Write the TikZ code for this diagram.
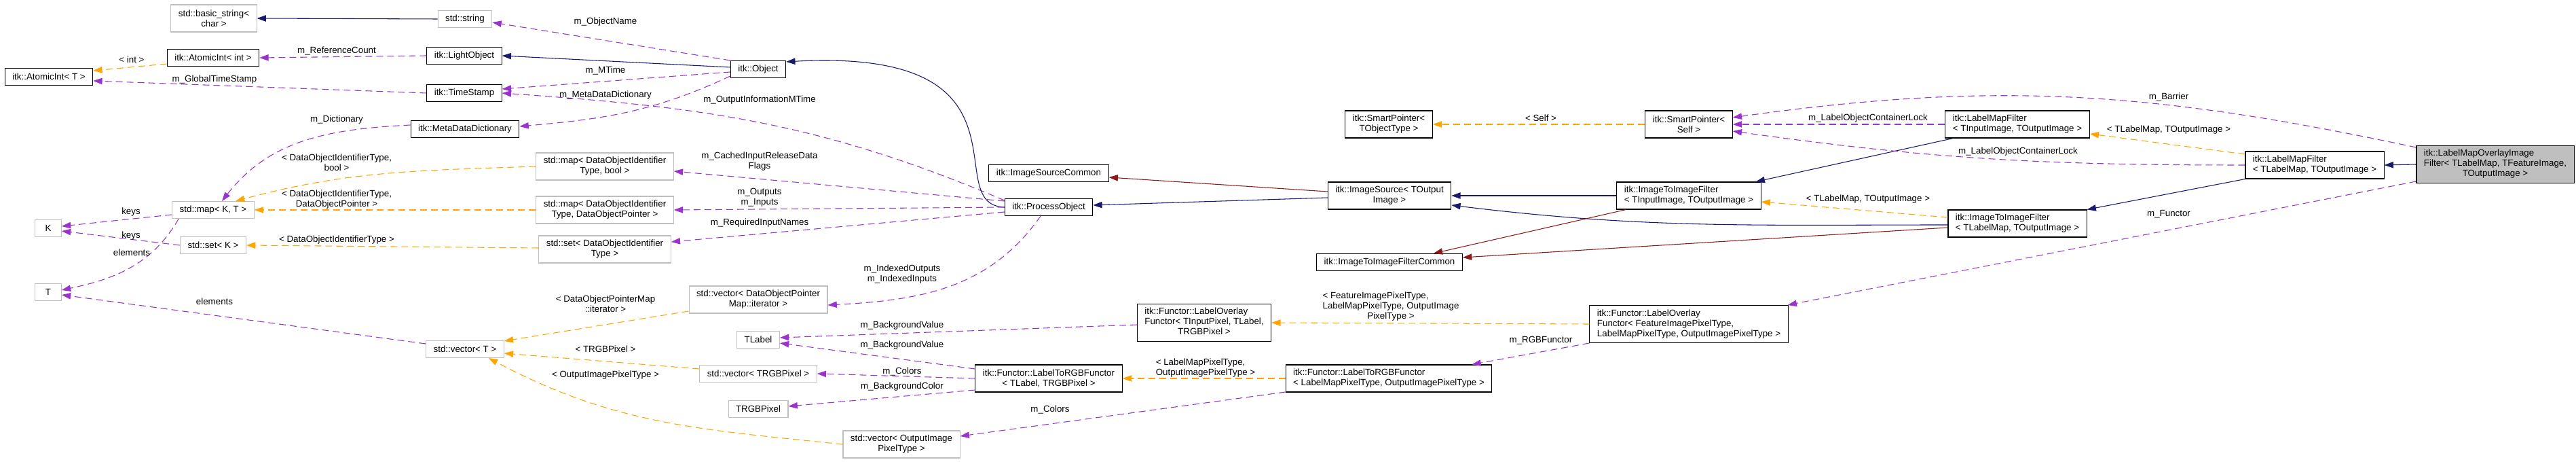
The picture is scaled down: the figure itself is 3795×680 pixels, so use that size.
\documentclass[tikz,border=0pt]{standalone}
\usepackage{fontspec}
\setmainfont{Liberation Sans}
\usetikzlibrary{arrows.meta, calc}
\definecolor{inhblue}{HTML}{191970}
\definecolor{protred}{HTML}{8B1A1A}
\definecolor{usepurple}{HTML}{9A32CD}
\definecolor{tmplorange}{HTML}{FFA500}
\definecolor{boxgray}{HTML}{BFBFBF}
\newcommand{\lastc}[1]{\multicolumn{1}{@{}c@{}}{#1}}

\begin{document}
\begin{tikzpicture}[x=0.75pt, y=-0.75pt, >={Triangle[length=10pt,width=7pt]},
    every node/.style={font=\fontsize{10}{11.25}\selectfont},
    cls/.style={draw=black, line width=0.8pt, inner xsep=8.25pt, inner ysep=2pt, minimum height=18.75pt},
    ext/.style={cls, draw=boxgray},
    cur/.style={cls, fill=boxgray},
    rows2/.style={minimum height=30pt},
    rows3/.style={minimum height=41.25pt},
    lbl/.style={inner sep=0pt, align=center},
    inh/.style={->, draw=inhblue, line width=0.8pt},
    prot/.style={->, draw=protred, line width=0.8pt},
    use/.style={->, draw=usepurple, line width=0.8pt, dash pattern=on 7.5pt off 4.5pt},
    tmpl/.style={->, draw=tmplorange, line width=0.8pt, dash pattern=on 7.5pt off 4.5pt}]
                \useasboundingbox (0,0) rectangle (3795,680);

                \node[ext, rows2, align=center] (bstr) at (315,27) {std::basic\_string<\\char >};
                \node[cls] (aint) at (314,85) {itk::AtomicInt< int >};
                \node[cls] (aintT) at (72,113) {itk::AtomicInt< T >};
                \node[ext] (mapkt) at (314,309) {std::map< K, T >};
                \node[ext, minimum width=29pt] (K) at (71,336) {K};
                \node[ext] (setk) at (314,361) {std::set< K >};
                \node[ext, minimum width=29pt] (T) at (71,430) {T};
                \node[ext] (str) at (685,28) {std::string};
                \node[cls] (lobj) at (684,82) {itk::LightObject};
                \node[cls] (tstamp) at (684,137) {itk::TimeStamp};
                \node[cls] (mdd) at (685,190) {itk::MetaDataDictionary};
                \node[ext] (vecT) at (685,514) {std::vector< T >};
                \node[cls] (obj) at (1117,102) {itk::Object};
                \node[ext, rows2, align=center] (mapb) at (891,245) {std::map< DataObjectIdentifier\\Type, bool >};
                \node[ext, rows2, align=center] (mapp) at (891,309) {std::map< DataObjectIdentifier\\Type, DataObjectPointer >};
                \node[ext, rows2, align=center] (setd) at (891,367) {std::set< DataObjectIdentifier\\Type >};
                \node[ext, rows2, align=center] (veci) at (1117,441) {std::vector< DataObjectPointer\\Map::iterator >};
                \node[ext] (tlabel) at (1117,500) {TLabel};
                \node[ext] (vecrgb) at (1117,550) {std::vector< TRGBPixel >};
                \node[ext] (trgb) at (1117,602) {TRGBPixel};
                \node[ext, rows2, align=center] (veco) at (1328,654) {std::vector< OutputImage\\PixelType >};
                \node[cls] (isc) at (1545,255) {itk::ImageSourceCommon};
                \node[cls] (po) at (1545,305) {itk::ProcessObject};
                \node[cls, rows3] (lof) at (1774,475) {\begin{tabular}{@{}l@{}}itk::Functor::LabelOverlay\\Functor< TInputPixel, TLabel,\\\lastc{TRGBPixel >}\end{tabular}};
                \node[cls, rows2, align=center] (ltr) at (1545,557) {itk::Functor::LabelToRGBFunctor\\< TLabel, TRGBPixel >};
                \node[cls, rows2, align=center] (spt) at (2046,183) {itk::SmartPointer<\\ TObjectType >};
                \node[cls, rows2, align=center] (sps) at (2488,183) {itk::SmartPointer<\\ Self >};
                \node[cls, rows2, align=center] (is) at (2047,288) {itk::ImageSource< TOutput\\ Image >};
                \node[cls, rows2, align=left] (iif) at (2488,288) {itk::ImageToImageFilter\\< TInputImage, TOutputImage >};
                \node[cls] (iifc) at (2047,386) {itk::ImageToImageFilterCommon};
                \node[cls, rows3, align=left] (lof2) at (2488,477) {itk::Functor::LabelOverlay\\Functor< FeatureImagePixelType,\\ LabelMapPixelType, OutputImagePixelType >};
                \node[cls, rows2, align=left] (ltr2) at (2046,557) {itk::Functor::LabelToRGBFunctor\\< LabelMapPixelType, OutputImagePixelType >};
                \node[cls, rows2, align=left] (lmf) at (2972,183) {itk::LabelMapFilter\\< TInputImage, TOutputImage >};
                \node[cls, rows2, align=left] (iif2) at (2972,329) {itk::ImageToImageFilter\\< TLabelMap, TOutputImage >};
                \node[cls, rows2, align=left] (lmf2) at (3410,243) {itk::LabelMapFilter\\< TLabelMap, TOutputImage >};
                \node[cur, rows3] (main) at (3676,242) {\begin{tabular}{@{}l@{}}itk::LabelMapOverlayImage\\Filter< TLabelMap, TFeatureImage,\\\lastc{TOutputImage >}\end{tabular}};

                \draw[inh] (str.west) -- (bstr.east);
                \draw[use] (obj.north west) -- ($(str.east)+(0,5)$);
                \draw[inh] ($(obj.west)+(0,-3)$) -- (lobj.east);
                \draw[use] ($(obj.west)+(0,4)$) -- ($(tstamp.east)+(0,-6)$);
                \draw[use] ($(po.north west)+(0,3)$) to[out=157, in=-4] (tstamp.east);
                \draw[inh] (po.west) .. controls (1380,301) and (1540,70) .. (obj.15);
                \draw[use] ($(obj.west)+(0,10)$) to[out=205, in=5] ($(mdd.east)+(0,-4)$);
                \draw[use] ($(mdd.west)+(0,-6)$) to[out=183, in=52] ($(mapkt.north)+(13,0)$);
                \draw[tmpl] (mapb.west) to[out=182, in=15] ($(mapkt.north)+(33,0)$);
                \draw[tmpl] (mapp.west) -- (mapkt.east);
                \draw[tmpl] ($(setd.west)+(0,-2)$) -- (setk.east);
                \draw[use] ($(mapkt.west)+(0,7)$) -- ($(K.east)+(0,-3)$);
                \draw[use] (setk.west) -- ($(K.east)+(0,4)$);
                \draw[use] ($(mapkt.south west)+(10,0)$) to[out=240, in=12] ($(T.east)+(0,-3)$);
                \draw[use] ($(vecT.west)+(0,-8)$) -- ($(T.east)+(0,4)$);
                \draw[tmpl] ($(aint.west)+(0,9)$) -- ($(aintT.east)+(0,-9)$);
                \draw[use] (lobj.west) -- (aint.east);
                \draw[use] (tstamp.west) -- ($(aintT.east)+(0,6)$);
                \draw[use] ($(po.west)+(0,-9)$) -- ($(mapb.east)+(0,7)$);
                \draw[use] (po.west) -- (mapp.east);
                \draw[use] ($(po.west)+(0,7)$) -- ($(setd.east)+(0,-11)$);
                \draw[use] ($(po.south)+(-12,0)$) to[out=235, in=3] ($(veci.east)+(0,8)$);
                \draw[tmpl] ($(veci.west)+(0,17)$) -- ($(vecT.north east)+(0,1)$);
                \draw[tmpl] ($(vecrgb.west)+(0,-7)$) -- ($(vecT.east)+(0,6)$);
                \draw[tmpl] (veco.west) to[out=174, in=-28] ($(vecT.south east)+(-23,0)$);
                \draw[use] ($(lof.west)+(0,3)$) -- ($(tlabel.east)+(0,-3)$);
                \draw[use] ($(ltr.west)+(0,-14)$) -- ($(tlabel.east)+(0,5)$);
                \draw[use] (ltr.west) -- (vecrgb.east);
                \draw[use] ($(ltr.west)+(0,17)$) -- ($(trgb.east)+(0,-4)$);
                \draw[use] ($(ltr2.west)+(0,20)$) -- ($(veco.east)+(0,-12)$);
                \draw[tmpl] (ltr2.west) -- (ltr.east);
                \draw[tmpl] (lof2.west) -- (lof.east);
                \draw[inh] ($(is.west)+(0,3)$) -- ($(po.east)+(0,-3)$);
                \draw[prot] ($(is.west)+(0,-6)$) -- ($(isc.east)+(0,6)$);
                \draw[inh] (iif.west) -- (is.east);
                \draw[inh] ($(iif2.west)+(0,2)$) to[out=180, in=-7] ($(is.east)+(0,14)$);
                \draw[prot] ($(iif.south west)+(14,0)$) -- ($(iifc.north east)+(-43,0)$);
                \draw[prot] ($(iif2.west)+(0,6)$) -- ($(iifc.east)+(0,-7)$);
                \draw[inh] ($(lmf.south west)+(12,0)$) -- ($(iif.north east)+(-8,0)$);
                \draw[inh] (lmf2.south west) -- (iif2.north east);
                \draw[tmpl] ($(lmf2.west)+(0,-16)$) -- ($(lmf.east)+(0,14)$);
                \draw[tmpl] ($(iif2.west)+(0,-9)$) -- ($(iif.east)+(0,9)$);
                \draw[use] (lmf.west) -- (sps.east);
                \draw[use] (lmf2.west) to[out=180, in=-8] ($(sps.east)+(0,10)$);
                \draw[use] ($(main.north west)+(0,3)$) to[out=168, in=8] ($(sps.east)+(0,-10)$);
                \draw[inh] (main.west) -- (lmf2.east);
                \draw[use] ($(main.south west)+(0,-3)$) -- ($(lof2.north east)+(-1,0)$);
                \draw[use] (lof2.south west) -- ($(ltr2.north east)+(-30,0)$);
                \draw[tmpl] (sps.west) -- (spt.east);

                \node[lbl] (lObjName) at (892,32) {m\_ObjectName};
                \node[lbl] (lRefCount) at (496,75) {m\_ReferenceCount};
                \node[lbl] (lInt) at (194,88) {< int >};
                \node[lbl] (lGlobal) at (316,117) {m\_GlobalTimeStamp};
                \node[lbl] (lMTime) at (892,104) {m\_MTime};
                \node[lbl] (lMeta) at (892,140) {m\_MetaDataDictionary};
                \node[lbl] (lOutInfo) at (1119,147) {m\_OutputInformationMTime};
                \node[lbl] (lDict) at (496,176) {m\_Dictionary};
                \node[lbl] (lIdBool) at (496,239) {< DataObjectIdentifierType,\\bool >};
                \node[lbl] (lIdPtr) at (496,294) {< DataObjectIdentifierType,\\DataObjectPointer >};
                \node[lbl] (lKeys1) at (193,312) {keys};
                \node[lbl] (lKeys2) at (193,347) {keys};
                \node[lbl] (lElem1) at (194,372) {elements};
                \node[lbl] (lIdSet) at (496,353) {< DataObjectIdentifierType >};
                \node[lbl] (lElem2) at (316,444) {elements};
                \node[lbl] (lCached) at (1119,238) {m\_CachedInputReleaseData\\Flags};
                \node[lbl] (lInOut) at (1119,291) {m\_Outputs\\m\_Inputs};
                \node[lbl] (lReq) at (1119,328) {m\_RequiredInputNames};
                \node[lbl] (lIter) at (892,447) {< DataObjectPointerMap\\::iterator >};
                \node[lbl] (lRgb) at (892,514) {< TRGBPixel >};
                \node[lbl] (lOutPix) at (892,552) {< OutputImagePixelType >};
                \node[lbl] (lIndexed) at (1329,404) {m\_IndexedOutputs\\m\_IndexedInputs};
                \node[lbl] (lBack1) at (1329,479) {m\_BackgroundValue};
                \node[lbl] (lBack2) at (1329,508) {m\_BackgroundValue};
                \node[lbl] (lColors1) at (1329,547) {m\_Colors};
                \node[lbl] (lBackCol) at (1329,569) {m\_BackgroundColor};
                \node[lbl] (lColors2) at (1547,603) {m\_Colors};
                \node[lbl, align=left] (lMapPix) at (1776,542) {< LabelMapPixelType,\\OutputImagePixelType >};
                \node[lbl] (lFeat) at (2049,452) {\begin{tabular}{@{}l@{}}< FeatureImagePixelType,\\LabelMapPixelType, OutputImage\\\lastc{PixelType >}\end{tabular}};
                \node[lbl] (lRgbF) at (2270,501) {m\_RGBFunctor};
                \node[lbl] (lSelf) at (2270,174) {< Self >};
                \node[lbl] (lLock1) at (2752,174) {m\_LabelObjectContainerLock};
                \node[lbl] (lLock2) at (2973,223) {m\_LabelObjectContainerLock};
                \node[lbl] (lTmpl1) at (2752,293) {< TLabelMap, TOutputImage >};
                \node[lbl] (lTmpl2) at (3195,191) {< TLabelMap, TOutputImage >};
                \node[lbl] (lBarrier) at (3195,143) {m\_Barrier};
                \node[lbl] (lFunctor) at (3195,315) {m\_Functor};
            \end{tikzpicture}
\end{document}
